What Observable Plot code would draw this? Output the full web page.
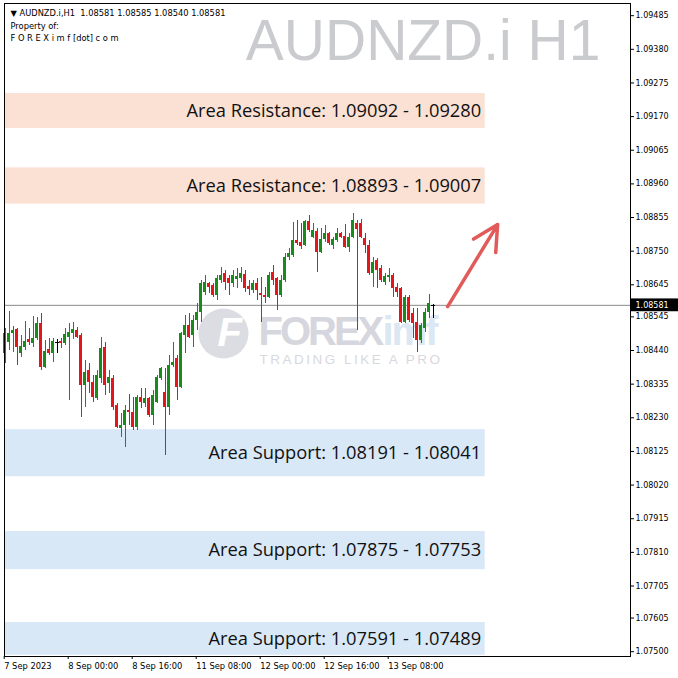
<!DOCTYPE html>
<html><head><meta charset="utf-8">
<script src="https://cdn.jsdelivr.net/npm/d3@7"></script>
<script src="https://cdn.jsdelivr.net/npm/@observablehq/plot@0.6"></script>
<style>
html,body{margin:0;padding:0;background:#fff;}
#chart{width:678px;height:678px;overflow:hidden;}
svg{display:block;overflow:visible;}
svg text{white-space:pre;}
</style></head><body><div id="chart"></div>
<script>
// ---- data (H1 candles, 7 Sep 2023 08:00 onward) ----
const open=[1.08430,1.08465,1.08493,1.08505,1.08430,1.08449,1.08474,1.08462,1.08477,1.08524,
1.08387,1.08443,1.08430,1.08465,1.08468,1.08462,1.08480,1.08493,1.08502,1.08487,
1.08330,1.08377,1.08340,1.08290,1.08352,1.08449,1.08337,
1.08352,1.08268,1.08196,1.08205,1.08252,1.08246,1.08199,1.08293,1.08274,1.08290,
1.08237,1.08277,1.08352,1.08309,1.08262,1.08393,1.08415,1.08324,1.08487,1.08518,
1.08487,1.08534,1.08558,1.08621,1.08649,1.08643,1.08611,
1.08658,1.08680,1.08665,1.08649,1.08661,1.08665,1.08677,1.08640,1.08627,1.08649,
1.08618,1.08611,1.08605,1.08683,1.08665,1.08611,1.08658,1.08730,1.08736,1.08783,
1.08777,1.08768,1.08842,1.08793,1.08811,1.08746,1.08786,
1.08805,1.08768,1.08783,1.08805,1.08796,1.08761,1.08793,1.08836,1.08836,1.08790,
1.08768,1.08680,1.08721,1.08696,1.08652,1.08668,1.08674,1.08636,1.08633,1.08527,
1.08605,1.08555,1.08527,1.08471,1.08509,1.08558,1.08581];
const high=[1.08509,1.08562,1.08515,1.08509,1.08487,1.08530,1.08509,1.08546,1.08543,1.08555,
1.08471,1.08477,1.08477,1.08474,1.08477,1.08509,1.08524,1.08527,1.08512,1.08493,
1.08409,1.08399,1.08362,1.08377,1.08480,1.08465,1.08377,
1.08362,1.08274,1.08243,1.08268,1.08302,1.08293,1.08299,1.08321,1.08321,1.08293,
1.08315,1.08362,1.08387,1.08384,1.08424,1.08465,1.08424,1.08496,1.08549,1.08555,
1.08549,1.08587,1.08658,1.08674,1.08652,1.08649,1.08674,
1.08699,1.08690,1.08674,1.08690,1.08696,1.08699,1.08690,1.08658,1.08658,1.08665,
1.08668,1.08636,1.08683,1.08705,1.08668,1.08674,1.08743,1.08758,1.08839,1.08846,
1.08836,1.08846,1.08861,1.08836,1.08821,1.08821,1.08830,
1.08808,1.08793,1.08821,1.08808,1.08833,1.08805,1.08867,1.08846,1.08849,1.08805,
1.08783,1.08730,1.08727,1.08705,1.08680,1.08696,1.08680,1.08649,1.08636,1.08611,
1.08611,1.08571,1.08571,1.08524,1.08571,1.08615,1.08585];
const low=[1.08399,1.08440,1.08434,1.08393,1.08418,1.08440,1.08455,1.08449,1.08471,1.08377,
1.08384,1.08424,1.08402,1.08430,1.08446,1.08455,1.08284,1.08474,1.08477,1.08230,
1.08262,1.08305,1.08277,1.08284,1.08337,1.08299,1.08305,
1.08252,1.08196,1.08168,1.08137,1.08205,1.08190,1.08190,1.08259,1.08262,1.08230,
1.08205,1.08274,1.08346,1.08112,1.08237,1.08387,1.08284,1.08321,1.08430,1.08477,
1.08449,1.08502,1.08527,1.08611,1.08618,1.08605,1.08596,
1.08649,1.08627,1.08611,1.08636,1.08633,1.08652,1.08621,1.08611,1.08618,1.08596,
1.08527,1.08587,1.08602,1.08643,1.08565,1.08605,1.08652,1.08721,1.08730,1.08768,
1.08755,1.08765,1.08808,1.08790,1.08683,1.08743,1.08777,
1.08768,1.08755,1.08777,1.08790,1.08758,1.08746,1.08790,1.08502,1.08790,1.08743,
1.08674,1.08636,1.08633,1.08652,1.08643,1.08652,1.08605,1.08605,1.08524,1.08524,
1.08527,1.08477,1.08434,1.08462,1.08496,1.08540,1.08540];
const close=[1.08493,1.08493,1.08502,1.08449,1.08452,1.08468,1.08465,1.08477,1.08524,1.08387,
1.08437,1.08430,1.08468,1.08465,1.08462,1.08490,1.08496,1.08505,1.08480,1.08330,
1.08371,1.08340,1.08293,1.08362,1.08446,1.08330,1.08355,
1.08262,1.08199,1.08205,1.08252,1.08246,1.08199,1.08293,1.08277,1.08290,1.08237,
1.08299,1.08355,1.08384,1.08262,1.08393,1.08402,1.08324,1.08493,1.08518,1.08480,
1.08534,1.08558,1.08649,1.08652,1.08636,1.08611,1.08665,
1.08674,1.08652,1.08649,1.08674,1.08671,1.08680,1.08633,1.08630,1.08649,1.08627,
1.08611,1.08605,1.08674,1.08658,1.08611,1.08658,1.08730,1.08743,1.08783,1.08774,
1.08765,1.08842,1.08814,1.08814,1.08746,1.08786,1.08805,
1.08774,1.08786,1.08805,1.08793,1.08761,1.08793,1.08846,1.08818,1.08793,1.08768,
1.08680,1.08715,1.08690,1.08658,1.08671,1.08674,1.08633,1.08621,1.08527,1.08605,
1.08534,1.08524,1.08471,1.08518,1.08558,1.08587,1.08581];

const timeTickIndex=[0,16,32,48,64,80,96];
const timeTickLabels=["7 Sep 2023","8 Sep 00:00","8 Sep 16:00","11 Sep 08:00","12 Sep 00:00","12 Sep 16:00","13 Sep 08:00"];
const priceTicks=[1.09485,1.09380,1.09275,1.09170,1.09065,1.08960,1.08855,1.08750,1.08645,1.08545,
1.08440,1.08335,1.08230,1.08125,1.08020,1.07915,1.07810,1.07705,1.07605,1.07500];

const zoneLabels=["Area Resistance: 1.09092 - 1.09280","Area Resistance: 1.08893 - 1.09007",
"Area Support: 1.08191 - 1.08041","Area Support: 1.07875 - 1.07753","Area Support: 1.07591 - 1.07489"];
const zoneTop=[1.09242,1.09010,1.08193,1.07875,1.07591];
const zoneBottom=[1.09133,1.08897,1.08046,1.07756,1.07489];
const zoneKind=["resistance","resistance","support","support","support"];
const zoneEndIndex=120;

const lastPrice=1.08581;
const arrowStart={i:110.6,p:1.08577};
const arrowEnd={i:123.1,p:1.08833};
const headerLines=["\u25BC AUDNZD.i,H1  1.08581 1.08585 1.08540 1.08581","Property of:","F O R E X i m f [dot] c o m"];
const symbolTitle="AUDNZD.i H1";
const logoWords=["FOREX","imf"];
const logoSlogan="TRADING LIKE A PRO";

// ---- build ----
const GREEN="#1a8a1a", RED="#e3161c";
const candles=open.map((o,i)=>({i,o,h:high[i],l:low[i],c:close[i]}));
const col=d=>d.c>d.o?GREEN:(d.c<d.o?RED:"#000");
const zones=zoneLabels.map((t,k)=>({t,top:zoneTop[k],bot:zoneBottom[k],kind:zoneKind[k],mid:(zoneTop[k]+zoneBottom[k])/2}));
const xDomain=[-0.175,156.325];
const yDomain=[1.07485,1.09523];
const dojis=candles.filter(d=>d.o===d.c);
const bodies=candles.filter(d=>d.o!==d.c);
const tagHalf=0.0002;

const plot=Plot.plot({
  width:678,height:678,
  marginTop:3,marginLeft:4,marginRight:48,marginBottom:22,
  x:{domain:xDomain},
  y:{domain:yDomain},
  color:{type:"identity"},
  style:{fontFamily:"DejaVu Sans",background:"#fff",overflow:"visible"},
  marks:[
    Plot.rect(zones,{x1:xDomain[0],x2:zoneEndIndex,y1:"bot",y2:"top",
      fill:d=>d.kind==="resistance"?"#fbe1d4":"#d9e8f7"}),
    Plot.text(zones,{x:zoneEndIndex,y:"mid",text:"t",textAnchor:"end",dx:-4,
      fontSize:18.3,fontFamily:"Open Sans",fill:"#111"}),
    // watermark title
    Plot.text([symbolTitle],{frameAnchor:"top-right",dx:-30,dy:38,lineAnchor:"middle",
      fontSize:57,fontFamily:"Liberation Sans",fill:"#cacbce"}),
    // watermark logo
    Plot.dot([0],{frameAnchor:"top-left",dx:219,dy:330,r:25,fill:"#dcdde3",stroke:"none"}),
    Plot.text(["F"],{frameAnchor:"top-left",dx:213,dy:330,lineAnchor:"middle",fontSize:40,
      fontWeight:"bold",fontFamily:"Liberation Sans",fill:"#fff",fontStyle:"italic"}),
    Plot.text([logoWords[0]],{frameAnchor:"top-left",dx:254,dy:329,lineAnchor:"middle",textAnchor:"start",
      fontSize:40,fontWeight:"bold",fontFamily:"Liberation Sans",fill:"#d6d7de",className:"wm-forex"}),
    Plot.text([logoWords[1]],{frameAnchor:"top-left",dx:378,dy:329,lineAnchor:"middle",textAnchor:"start",
      fontSize:40,fontWeight:"bold",fontFamily:"Liberation Sans",fill:"#dbe7f2",className:"wm-imf"}),
    Plot.text([logoSlogan],{frameAnchor:"top-left",dx:255,dy:356,lineAnchor:"middle",textAnchor:"start",
      fontSize:13.5,fontFamily:"Liberation Sans",fill:"#d8d9de",className:"wm-slogan"}),
    // header
    Plot.text([headerLines.join("\n")],{frameAnchor:"top-left",dx:6,dy:4,lineAnchor:"top",textAnchor:"start",
      fontSize:8.3,lineHeight:1.5,fontFamily:"DejaVu Sans",fill:"#000"}),
    // current price line
    Plot.ruleY([lastPrice],{stroke:"#8a8a8a",strokeWidth:1}),
    // candles
    Plot.ruleX(candles,{x:"i",y1:"l",y2:"h",stroke:col,strokeWidth:1,shapeRendering:"crispEdges"}),
    Plot.rect(bodies,{x1:d=>d.i-0.375,x2:d=>d.i+0.375,y1:"o",y2:"c",fill:col,shapeRendering:"crispEdges"}),
    Plot.ruleY(dojis,{y:"o",x1:d=>d.i-0.5,x2:d=>d.i+0.5,stroke:"#000",shapeRendering:"crispEdges"}),
    // arrow
    Plot.arrow([0],{x1:arrowStart.i,y1:arrowStart.p,x2:arrowEnd.i,y2:arrowEnd.p,
      stroke:"#e25a5a",strokeWidth:3.5,headLength:12,headAngle:55}),
    // axes
    Plot.axisY(priceTicks,{anchor:"right",tickFormat:d3.format(".5f"),tickSize:3,tickPadding:2,
      fontSize:8,fontFamily:"DejaVu Sans",label:null}),
    Plot.axisX(timeTickIndex,{anchor:"bottom",tickFormat:d=>timeTickLabels[timeTickIndex.indexOf(d)],
      tickSize:3,tickPadding:4,textAnchor:"start",dx:-1,fontSize:8.3,fontFamily:"DejaVu Sans",label:null}),
    Plot.frame({stroke:"#000"}),
    // current price tag on the right axis
    Plot.rect([lastPrice],{x1:xDomain[1],x2:xDomain[1]+12,y1:d=>d-tagHalf,y2:d=>d+tagHalf,dx:0.5,fill:"#000",clip:false}),
    Plot.text([lastPrice],{x:xDomain[1],y:d=>d,text:d=>d3.format(".5f")(d),dx:5,textAnchor:"start",
      fill:"#fff",fontSize:8,fontFamily:"DejaVu Sans",clip:false})
  ]
});
document.getElementById("chart").appendChild(plot);
// letter spacing for the watermark logo words
const svg=d3.select(plot);
svg.selectAll(".wm-forex text, text.wm-forex").attr("letter-spacing",-3);
svg.selectAll(".wm-imf text, text.wm-imf").attr("letter-spacing",-2);
svg.selectAll(".wm-slogan text, text.wm-slogan").attr("letter-spacing",2.5);
svg.selectAll("text").filter(function(){return this.textContent===logoWords[0];}).attr("letter-spacing",-3);
svg.selectAll("text").filter(function(){return this.textContent===logoWords[1];}).attr("letter-spacing",-2);
svg.selectAll("text").filter(function(){return this.textContent===logoSlogan;}).attr("letter-spacing",2.5);
</script></body></html>
